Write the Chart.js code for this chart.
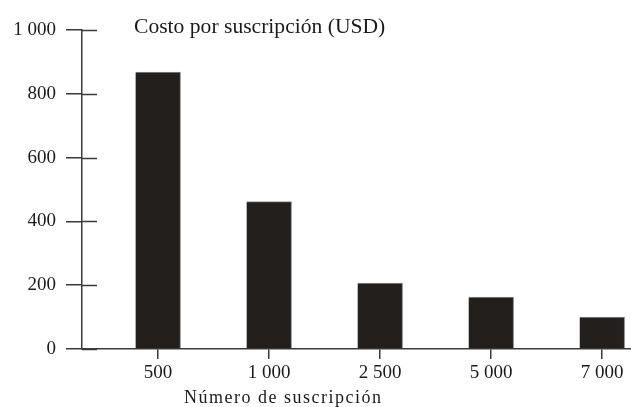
<!DOCTYPE html>
<html lang="es">
<head>
<meta charset="utf-8">
<title>Costo por suscripción</title>
<script src="https://cdn.jsdelivr.net/npm/chart.js@4.4.1/dist/chart.umd.min.js"></script>
<style>
  html, body { margin: 0; padding: 0; background: #ffffff; }
  #wrap { width: 631px; height: 407px; position: relative; overflow: hidden; }
</style>
</head>
<body>
<div id="wrap"><canvas id="chart"></canvas></div>
<script>
// Subscription volumes and the cost per subscription for each one
const categories = ['500', '1 000', '2 500', '5 000', '7 000'];
const costs = [868, 462, 207, 163, 100];
const yTickValues = [0, 200, 400, 600, 800, 1000];
const yTickLabels = ['0', '200', '400', '600', '800', '1 000'];
const chartTitle = 'Costo por suscripción (USD)';
const xAxisTitle = 'Número de suscripción';

const INK = '#231f1c';
const AXIS = '#3a3a3a';
const FONT = "'Liberation Serif', 'DejaVu Serif', serif";

const points = costs.map((v, i) => ({ x: i, y: v }));

// Draws the inner half of each y tick, plus the two text headings
const decorations = {
  id: 'decorations',
  afterDraw(chart) {
    const { ctx, chartArea, scales } = chart;
    const y = scales.y;
    ctx.save();
    ctx.strokeStyle = AXIS;
    ctx.lineWidth = 1.5;
    yTickValues.forEach(v => {
      const py = Math.round(y.getPixelForValue(v)) + 0.5;
      ctx.beginPath();
      ctx.moveTo(chartArea.left, py);
      ctx.lineTo(chartArea.left + 15, py);
      ctx.stroke();
    });

    ctx.fillStyle = '#1a1a1a';
    ctx.textBaseline = 'middle';
    ctx.textAlign = 'left';
    ctx.font = '21.6px ' + FONT;
    ctx.fillText(chartTitle, chartArea.left + 52, y.getPixelForValue(1000) - 3);

    ctx.font = '18px ' + FONT;
    if ('letterSpacing' in ctx) ctx.letterSpacing = '1.5px';
    ctx.fillText(xAxisTitle, chartArea.left + 102, chartArea.bottom + 49);
    ctx.restore();
  }
};

new Chart(document.getElementById('chart'), {
  type: 'bar',
  data: {
    datasets: [{
      data: points,
      backgroundColor: INK,
      borderColor: '#8c8c8c',
      borderWidth: { top: 1, right: 1, left: 0, bottom: 0 },
      borderSkipped: false,
      barThickness: 45
    }]
  },
  options: {
    responsive: true,
    maintainAspectRatio: false,
    animation: false,
    layout: { padding: { top: 30, right: 0, bottom: 0, left: 0 } },
    plugins: {
      legend: { display: false },
      tooltip: { enabled: false },
      title: { display: false }
    },
    scales: {
      x: {
        type: 'linear',
        offset: false,
        min: -0.685,
        max: 4.26,
        afterBuildTicks(scale) {
          scale.ticks = categories.map((_, i) => ({ value: i }));
        },
        afterFit(scale) { scale.height = 58; },
        ticks: {
          color: '#1a1a1a',
          font: { family: FONT, size: 19 },
          padding: 3,
          maxRotation: 0,
          autoSkip: false,
          callback: (v) => categories[v]
        },
        grid: {
          offset: false,
          drawOnChartArea: false,
          drawTicks: true,
          tickLength: 10,
          color: AXIS,
          lineWidth: 1.5
        },
        border: { display: true, color: AXIS, width: 1.5 }
      },
      y: {
        min: 0,
        max: 1000,
        afterBuildTicks(scale) {
          scale.ticks = yTickValues.map(v => ({ value: v }));
        },
        afterFit(scale) { scale.width = 82; },
        ticks: {
          color: '#1a1a1a',
          font: { family: FONT, size: 19 },
          padding: 10,
          callback: (v) => yTickLabels[yTickValues.indexOf(v)]
        },
        grid: {
          drawOnChartArea: false,
          drawTicks: true,
          tickLength: 16,
          color: AXIS,
          lineWidth: 1.5
        },
        border: { display: true, color: AXIS, width: 1.5 }
      }
    }
  },
  plugins: [decorations]
});
</script>
</body>
</html>
